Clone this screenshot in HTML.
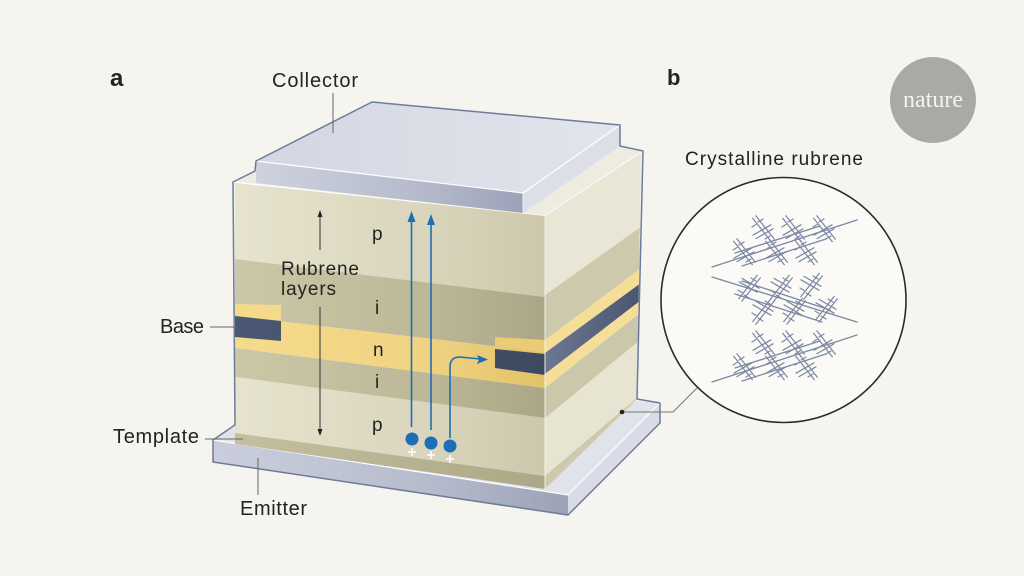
<!DOCTYPE html>
<html><head><meta charset="utf-8"><style>
html,body{margin:0;padding:0;background:#f5f4ee;}
svg{display:block;}
text{font-family:"Liberation Sans",sans-serif;fill:#232323;}
</style></head><body>
<svg width="1024" height="576" viewBox="0 0 1024 576" xmlns="http://www.w3.org/2000/svg">
<defs>
<linearGradient id="gp" gradientUnits="userSpaceOnUse" x1="235" y1="0" x2="545" y2="0"><stop offset="0" stop-color="#e6e3ce"/><stop offset="0.6" stop-color="#dad6bd"/><stop offset="1" stop-color="#cdc8ac"/></linearGradient>
<linearGradient id="gi" gradientUnits="userSpaceOnUse" x1="235" y1="0" x2="545" y2="0"><stop offset="0" stop-color="#cbc7a7"/><stop offset="0.6" stop-color="#bcb898"/><stop offset="1" stop-color="#aaa686"/></linearGradient>
<linearGradient id="gn" gradientUnits="userSpaceOnUse" x1="235" y1="0" x2="545" y2="0"><stop offset="0" stop-color="#f5db8c"/><stop offset="0.6" stop-color="#f0d383"/><stop offset="1" stop-color="#e3c26a"/></linearGradient>
<linearGradient id="gnav" gradientUnits="userSpaceOnUse" x1="235" y1="0" x2="545" y2="0"><stop offset="0" stop-color="#4a5874"/><stop offset="1" stop-color="#3e4a60"/></linearGradient>
<linearGradient id="gt" gradientUnits="userSpaceOnUse" x1="235" y1="0" x2="545" y2="0"><stop offset="0" stop-color="#c4bf9f"/><stop offset="1" stop-color="#aca886"/></linearGradient>
<linearGradient id="rnav" gradientUnits="userSpaceOnUse" x1="545" y1="0" x2="640" y2="0"><stop offset="0" stop-color="#6c7792"/><stop offset="1" stop-color="#4a5670"/></linearGradient>
<linearGradient id="gcf" gradientUnits="userSpaceOnUse" x1="256" y1="0" x2="523" y2="0"><stop offset="0" stop-color="#ced2df"/><stop offset="0.6" stop-color="#b6bbcc"/><stop offset="1" stop-color="#9ca2b8"/></linearGradient>
<linearGradient id="gct" gradientUnits="userSpaceOnUse" x1="256" y1="0" x2="620" y2="0"><stop offset="0" stop-color="#d3d6e1"/><stop offset="1" stop-color="#e3e5ed"/></linearGradient>
<linearGradient id="gef" gradientUnits="userSpaceOnUse" x1="213" y1="0" x2="568" y2="0"><stop offset="0" stop-color="#cacedc"/><stop offset="0.6" stop-color="#b7bccd"/><stop offset="1" stop-color="#9ca2b7"/></linearGradient>
<clipPath id="rf"><polygon points="545,216 641,152 637,399 545,489"/></clipPath>
<g id="m1" stroke="#7b87a3" stroke-width="1.2" fill="none" stroke-linecap="round">
<line x1="-9.3" y1="-11.7" x2="9.3" y2="11.7"/><line x1="-6.2" y1="-14.2" x2="12.4" y2="9.2"/>
<line x1="-9" y1="5.2" x2="9" y2="-5.2"/><line x1="-6" y1="8.6" x2="11" y2="-1.2"/>
<line x1="-4" y1="-8" x2="1" y2="-11"/><line x1="3" y1="9" x2="8" y2="6"/><line x1="-10" y1="-3" x2="-6" y2="-5.5"/>
</g>
<g id="m2" stroke="#7b87a3" stroke-width="1.2" fill="none" stroke-linecap="round">
<line x1="-9.3" y1="11.7" x2="9.3" y2="-11.7"/><line x1="-6.2" y1="14.2" x2="12.4" y2="-9.2"/>
<line x1="-9" y1="-5.2" x2="9" y2="5.2"/><line x1="-6" y1="-8.6" x2="11" y2="1.2"/>
<line x1="-4" y1="8" x2="1" y2="11"/><line x1="3" y1="-9" x2="8" y2="-6"/><line x1="-10" y1="3" x2="-6" y2="5.5"/>
</g>
</defs>

<!-- Emitter -->
<polygon points="213,440 330,370 660,403 568,495" fill="#e1e3eb"/>
<polygon points="213,440 568,495 568,515 213,462" fill="url(#gef)"/>
<polygon points="568,495 660,403 660,423 568,515" fill="#d9dce6"/>
<polyline points="213,440 568,495 660,403" fill="none" stroke="#ffffff" stroke-width="1.2"/>

<!-- Block top surface -->
<polygon points="233,182 545,216 643,151 620,146 620,125 256,161 256,171" fill="#eeece1"/>
<polyline points="233,182 545,216 643,151" fill="none" stroke="#ffffff" stroke-width="1.2"/>

<!-- Front face layers -->
<polygon points="235,183 545,216 545,297 235,259" fill="url(#gp)"/>
<polygon points="235,259 545,297 545,352 235,316" fill="url(#gi)"/>
<polygon points="235,316 545,352 545,388 235,348" fill="url(#gn)"/>
<polygon points="235,348 545,388 545,418 235,377" fill="url(#gi)"/>
<polygon points="235,377 545,418 545,476 235,433" fill="url(#gp)"/>
<polygon points="235,433 545,476 545,489 235,444" fill="url(#gt)"/>
<!-- contacts -->
<polygon points="235,304 281,305 281,321 235,316" fill="#f5da8b"/>
<polygon points="235,316 281,321 281,341 235,337" fill="url(#gnav)"/>
<polygon points="495,337 545,340 545,352 495,346" fill="#ebcb76"/>
<polygon points="495,349 545,354 545,375 495,368" fill="url(#gnav)"/>

<!-- Right face layers -->
<g clip-path="url(#rf)">
<polygon points="545,216 645,150 645,226 545,295" fill="#e9e6d6"/>
<polygon points="545,295 645,224 645,267 545,340" fill="#cdc9ad"/>
<polygon points="545,340 645,265 645,281 545,353" fill="#f5df98"/>
<polygon points="545,353 645,280 645,298 545,374" fill="url(#rnav)"/>
<polygon points="545,374 645,297 645,310 545,388" fill="#f5df98"/>
<polygon points="545,388 645,309 645,338 545,418" fill="#cbc7ab"/>
<polygon points="545,418 645,336 645,393 545,476" fill="#e7e4d2"/>
<polygon points="545,476 645,391 645,405 545,492" fill="#cdc9ad"/>
</g>
<line x1="545" y1="216" x2="545" y2="489" stroke="#f4f2e8" stroke-width="1"/>

<!-- Collector -->
<polygon points="256,161 372,102 620,125 523,193" fill="url(#gct)"/>
<polygon points="256,161 523,193 523,213 256,183" fill="url(#gcf)"/>
<polygon points="523,193 620,125 620,146 523,213" fill="#dcdfe8"/>
<polyline points="256,161 523,193 620,125" fill="none" stroke="#ffffff" stroke-width="1.2"/>
<line x1="523" y1="193" x2="523" y2="213" stroke="#eef0f5" stroke-width="1"/>

<!-- Silhouette outline -->
<path d="M233,182 L255,171 L256,161 L372,102 L620,125 L620,146 L643,151 L637,399 L660,403 L660,423 L568,515 L213,462 L213,440 L235,425 Z" fill="none" stroke="#6d7b9b" stroke-width="1.5" stroke-linejoin="round"/>

<!-- Rubrene layers arrows -->
<line x1="320" y1="250" x2="320" y2="216" stroke="#333" stroke-width="1"/>
<polygon points="320,210 317.5,217 322.5,217" fill="#222"/>
<line x1="320" y1="307" x2="320" y2="430" stroke="#333" stroke-width="1"/>
<polygon points="320,436 317.5,429 322.5,429" fill="#222"/>

<!-- Blue arrows -->
<g stroke="#1c6eb6" stroke-width="1.6" fill="none">
<line x1="411.5" y1="427" x2="411.5" y2="220"/>
<line x1="431" y1="430" x2="431" y2="223"/>
<path d="M450,438 L450,367 Q450,357 460,357 L480,359"/>
</g>
<g fill="#1c6eb6">
<polygon points="411.5,211 407.5,222 415.5,222"/>
<polygon points="431,214 427,225 435,225"/>
<polygon points="488,359.5 477,355 479,359.3 477,364"/>
<circle cx="412" cy="439" r="6.5"/>
<circle cx="431" cy="443" r="6.5"/>
<circle cx="450" cy="446" r="6.5"/>
</g>
<g stroke="#ffffff" stroke-width="1.5">
<line x1="408" y1="452" x2="416" y2="452"/><line x1="412" y1="448" x2="412" y2="456"/>
<line x1="427" y1="455" x2="435" y2="455"/><line x1="431" y1="451" x2="431" y2="459"/>
<line x1="446" y1="459" x2="454" y2="459"/><line x1="450" y1="455" x2="450" y2="463"/>
</g>

<!-- Layer letters -->
<g font-size="19">
<text x="372" y="240">p</text>
<text x="375" y="314">i</text>
<text x="373" y="356">n</text>
<text x="375" y="388">i</text>
<text x="372" y="431">p</text>
</g>
<text x="281" y="275" font-size="19" textLength="78">Rubrene</text>
<text x="281" y="295" font-size="19" textLength="55">layers</text>

<!-- Leader lines -->
<g stroke="#666" stroke-width="1">
<line x1="333" y1="93" x2="333" y2="133"/>
<line x1="210" y1="327" x2="238" y2="327"/>
<line x1="205" y1="439" x2="243" y2="439"/>
<line x1="258" y1="458" x2="258" y2="495"/>
<polyline points="622,412 673,412 697,388" fill="none" stroke="#777"/>
</g>
<circle cx="622" cy="412" r="2.3" fill="#222"/>

<!-- Labels -->
<text x="110" y="86" font-size="24" font-weight="bold" fill="#111">a</text>
<text x="667" y="85" font-size="22" font-weight="bold" fill="#111">b</text>
<text x="272" y="87" font-size="20" textLength="86">Collector</text>
<text x="160" y="333" font-size="20" textLength="44">Base</text>
<text x="113" y="443" font-size="20" textLength="86">Template</text>
<text x="240" y="515" font-size="20" textLength="67">Emitter</text>
<text x="685" y="165" font-size="19" textLength="178">Crystalline rubrene</text>

<!-- nature logo -->
<circle cx="933" cy="100" r="43" fill="#aaa9a4"/>
<text x="933" y="107" font-size="24" text-anchor="middle" textLength="60" style="font-family:'Liberation Serif',serif;fill:#f5f4ee;">nature</text>

<!-- Magnifier -->
<circle cx="783.5" cy="300" r="122.5" fill="#fbfaf6" stroke="#2b2b2b" stroke-width="1.6"/>
<g stroke="#7b87a3" stroke-width="1.3" fill="none" stroke-linecap="round">
<line x1="712" y1="267" x2="857" y2="220"/>
<line x1="742" y1="266" x2="826" y2="239"/>
<line x1="735" y1="253" x2="820" y2="226"/>
<line x1="712" y1="277" x2="857" y2="322"/>
<line x1="742" y1="281" x2="830" y2="310"/>
<line x1="735" y1="294" x2="822" y2="322"/>
<line x1="712" y1="382" x2="857" y2="335"/>
<line x1="742" y1="381" x2="826" y2="354"/>
<line x1="735" y1="368" x2="820" y2="341"/>
</g>
<use href="#m1" x="762" y="230"/><use href="#m1" x="792" y="230"/><use href="#m1" x="823" y="230"/>
<use href="#m1" x="743" y="253"/><use href="#m1" x="775" y="253"/><use href="#m1" x="805" y="253"/>
<use href="#m2" x="748" y="287"/><use href="#m2" x="780" y="287"/><use href="#m2" x="810" y="285"/>
<use href="#m2" x="762" y="310"/><use href="#m2" x="793" y="310"/><use href="#m2" x="825" y="308"/>
<use href="#m1" x="762" y="345"/><use href="#m1" x="792" y="345"/><use href="#m1" x="823" y="345"/>
<use href="#m1" x="743" y="368"/><use href="#m1" x="775" y="368"/><use href="#m1" x="805" y="368"/>
</svg>
</body></html>
